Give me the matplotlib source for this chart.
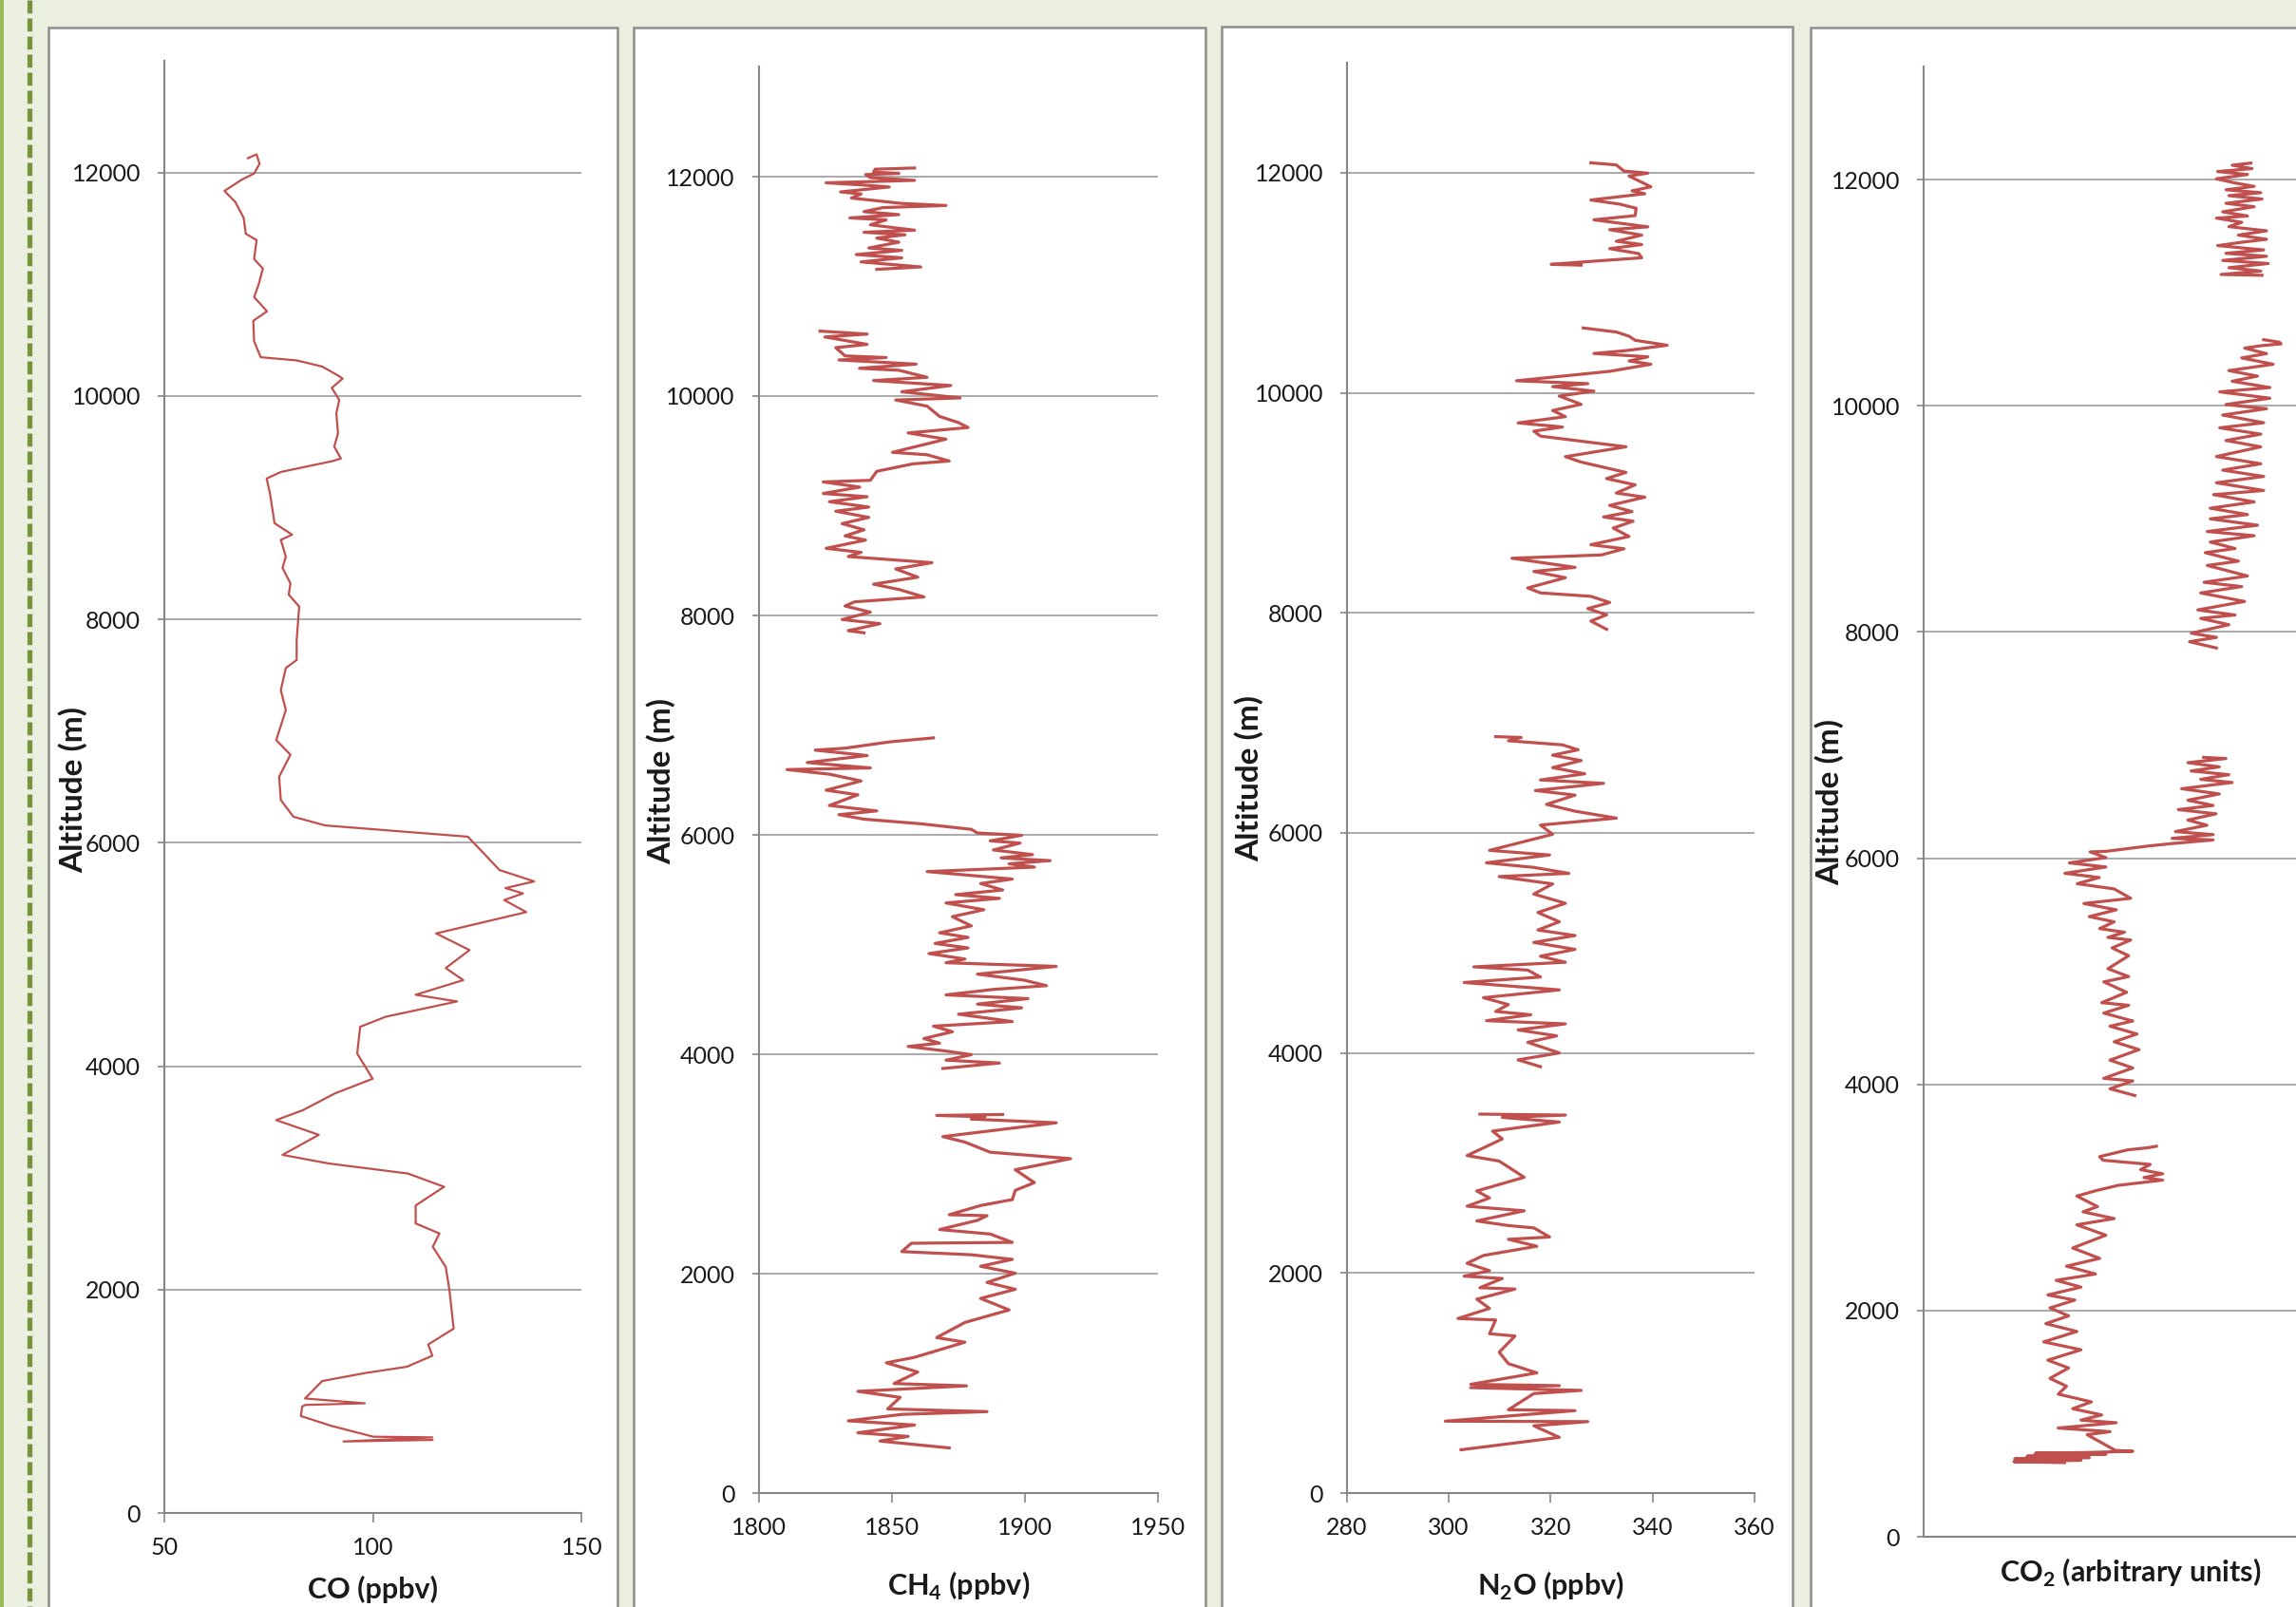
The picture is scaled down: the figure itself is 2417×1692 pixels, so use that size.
import numpy as np
import matplotlib.pyplot as plt
from matplotlib.patches import Rectangle
from matplotlib.lines import Line2D

# (altitude m, value), None marks a gap
co_profile = [
    (12128, 70.0), (12162, 72.1), (12077, 72.8), (11991, 71.5), (11935, 68.5), (11835, 64.4),
    (11736, 67.0), (11594, 69.0), (11452, 69.5), (11395, 72.1), (11225, 71.5), (11140, 73.6),
    (10999, 72.6), (10885, 71.5), (10757, 74.6), (10672, 71.3), (10488, 71.5), (10346, 73.1),
    (10318, 81.7), (10263, 87.8), (10176, 91.9), (10155, 92.7), (10072, 90.1), (9964, 91.9),
    (9845, 91.2), (9666, 91.6), (9546, 90.7), (9439, 92.3), (9415, 90.1), (9319, 77.9),
    (9260, 74.5), (9128, 75.3), (8860, 76.4), (8758, 80.6), (8711, 77.9), (8561, 79.1),
    (8460, 78.3), (8322, 80.2), (8221, 79.8), (8114, 82.3), (7815, 81.7), (7636, 81.7),
    (7564, 79.1), (7367, 77.9), (7188, 79.1), (6919, 76.8), (6788, 80.2), (6591, 77.5),
    (6382, 77.9), (6233, 80.9), (6155, 88.5), (6054, 122.7), (5905, 126.5), (5755, 130.3),
    (5654, 138.6), (5594, 131.7), (5546, 135.9), (5487, 131.4), (5379, 136.7), (5188, 115.1),
    (5039, 123.1), (4878, 117.4), (4770, 121.6), (4639, 110.2), (4579, 120.1), (4442, 103.0),
    (4352, 96.9), (4113, 96.2), (3887, 99.9), (3755, 90.8), (3606, 83.2), (3517, 76.8),
    (3385, 87.0), (3206, 78.3), (3129, 89.3), (3039, 108.3), (2920, 117.0), (2753, 110.2),
    (2592, 110.2), (2502, 115.9), (2383, 114.3), (2203, 117.4), (1991, 118.3), (1650, 119.3),
    (1508, 113.2), (1408, 114.2), (1309, 108.1), (1252, 98.0), (1181, 87.8), (1025, 83.7),
    (982, 98.0), (967, 83.7), (953, 83.0), (868, 82.7), (782, 89.8), (683, 100.0),
    (677, 114.2), (640, 92.9), (654, 114.2),
]

ch4_profile = [
    (12079, 1858.6), (12068, 1843.8), (12041, 1843.2), (12030, 1852.7), (12019, 1840.2),
    (11992, 1842.0), (11966, 1858.6), (11944, 1825.4), (11925, 1838.5), (11906, 1849.1),
    (11861, 1830.8), (11842, 1838.5), (11805, 1834.9), (11756, 1853.8), (11737, 1870.4),
    (11718, 1846.7), (11681, 1839.6), (11654, 1852.7), (11624, 1834.3), (11606, 1847.9),
    (11561, 1842.0), (11512, 1858.6), (11493, 1839.6), (11470, 1855.0), (11440, 1844.4),
    (11403, 1852.7), (11350, 1841.4), (11328, 1853.8), (11290, 1836.7), (11260, 1853.8),
    (11223, 1838.5), (11177, 1860.9), (11155, 1844.4),
    (None, None),
    (10592, 1823.1), (10565, 1840.8), (10539, 1824.9), (10471, 1840.8), (10441, 1829.0),
    (10366, 1832.5), (10351, 1847.9), (10329, 1830.2), (10291, 1859.2), (10253, 1837.9),
    (10235, 1852.7), (10171, 1863.3), (10141, 1843.2), (10096, 1872.2), (10039, 1853.8),
    (9983, 1875.7), (9964, 1851.5), (9908, 1863.3), (9814, 1868.0), (9758, 1875.1),
    (9713, 1878.7), (9664, 1856.2), (9607, 1870.4), (9487, 1850.3), (9465, 1863.3),
    (9408, 1871.6), (9382, 1858.0), (9314, 1844.4), (9232, 1842.0), (9217, 1824.3),
    (9170, 1838.0), (9112, 1824.3), (9082, 1840.8), (9037, 1826.6), (8988, 1841.4),
    (8950, 1829.0), (8894, 1841.4), (8837, 1831.4), (8781, 1839.6), (8725, 1832.5),
    (8687, 1840.2), (8612, 1825.4), (8575, 1838.5), (8537, 1833.7), (8481, 1865.1),
    (8424, 1851.5), (8349, 1859.8), (8285, 1843.2), (8237, 1852.7), (8169, 1862.1),
    (8124, 1836.1), (8086, 1832.5), (8030, 1842.0), (7963, 1831.4), (7925, 1845.6),
    (7861, 1833.7), (7842, 1839.6),
    (None, None),
    (6884, 1865.7), (6847, 1849.1), (6790, 1832.5), (6772, 1821.3), (6723, 1840.8),
    (6659, 1818.3), (6610, 1842.0), (6595, 1810.7), (6553, 1826.6), (6491, 1838.5),
    (6407, 1825.4), (6365, 1837.3), (6268, 1826.6), (6218, 1844.4), (6184, 1830.2),
    (6143, 1839.6), (6101, 1860.9), (6050, 1879.9), (6017, 1882.2), (5996, 1898.8),
    (5945, 1887.0), (5925, 1898.2), (5862, 1888.2), (5820, 1902.9), (5790, 1891.1),
    (5765, 1909.5), (5736, 1894.1), (5706, 1903.6), (5665, 1863.3), (5597, 1895.3),
    (5556, 1883.4), (5497, 1891.7), (5455, 1874.0), (5421, 1890.5), (5379, 1870.4),
    (5317, 1884.6), (5254, 1872.8), (5170, 1879.9), (5107, 1868.0), (5065, 1878.7),
    (5010, 1866.3), (4969, 1878.7), (4918, 1864.0), (4868, 1877.5), (4834, 1870.4),
    (4801, 1911.8), (4730, 1882.2), (4675, 1899.8), (4625, 1908.1), (4591, 1888.2),
    (4541, 1870.4), (4507, 1901.2), (4457, 1882.2), (4423, 1898.8), (4365, 1875.1),
    (4298, 1895.3), (4256, 1865.7), (4205, 1872.8), (4143, 1862.1), (4101, 1868.0),
    (4071, 1856.2), (4029, 1870.4), (3996, 1879.9), (3946, 1870.4), (3920, 1890.5),
    (3870, 1869.2),
    (None, None),
    (3451, 1891.7), (3442, 1866.9), (3430, 1885.0), (3409, 1879.9), (3375, 1911.8),
    (3249, 1869.2), (3199, 1877.5), (3107, 1887.0), (3048, 1917.2), (2947, 1896.4),
    (2830, 1903.6), (2759, 1896.4), (2675, 1895.3), (2621, 1883.4), (2537, 1871.6),
    (2528, 1885.8), (2486, 1882.2), (2402, 1868.0), (2361, 1887.0), (2285, 1895.3),
    (2277, 1857.4), (2201, 1853.8), (2172, 1879.9), (2130, 1895.3), (2067, 1883.4),
    (2004, 1896.4), (1920, 1885.8), (1857, 1896.4), (1774, 1883.4), (1669, 1894.1),
    (1555, 1877.5), (1417, 1866.9), (1375, 1877.5), (1237, 1858.6), (1187, 1848.0),
    (1103, 1859.8), (998, 1850.9), (977, 1878.1), (927, 1837.3), (872, 1853.2),
    (767, 1848.5), (742, 1885.8), (717, 1853.8), (658, 1833.7), (620, 1858.6),
    (549, 1837.3), (516, 1856.2), (474, 1845.6), (411, 1871.6),
]

n2o_profile = [
    (12090, 327.9), (12071, 332.9), (12015, 334.4), (11996, 339.1), (11970, 335.4),
    (11872, 339.7), (11835, 336.0), (11809, 338.5), (11752, 327.9), (11715, 333.5),
    (11677, 336.8), (11610, 336.6), (11572, 328.5), (11508, 339.1), (11482, 331.6),
    (11433, 337.9), (11377, 332.9), (11347, 337.9), (11310, 331.6), (11265, 337.3),
    (11227, 337.9), (11190, 326.7), (11167, 320.1), (11160, 326.0),
    (None, None),
    (10589, 326.4), (10552, 332.9), (10514, 335.4), (10477, 336.6), (10432, 342.9),
    (10383, 334.8), (10357, 328.5), (10327, 339.1), (10289, 335.4), (10259, 339.7),
    (10195, 331.6), (10109, 313.3), (10083, 327.3), (10056, 320.4), (10015, 328.5),
    (9970, 321.7), (9895, 326.0), (9839, 320.4), (9783, 322.9), (9726, 313.6),
    (9689, 322.3), (9651, 316.7), (9606, 318.0), (9509, 334.8), (9471, 329.8),
    (9419, 322.9), (9370, 326.0), (9276, 334.8), (9220, 331.0), (9163, 336.6),
    (9089, 332.9), (9051, 338.5), (8976, 331.6), (8920, 336.0), (8871, 330.4),
    (8833, 336.2), (8770, 332.3), (8694, 335.4), (8619, 327.9), (8582, 334.4),
    (8526, 330.0), (8496, 312.4), (8413, 324.8), (8376, 316.7), (8319, 322.9),
    (8226, 315.5), (8181, 318.0), (8150, 327.9), (8094, 331.6), (8038, 327.3),
    (7982, 331.0), (7925, 327.9), (7850, 331.0),
    (None, None),
    (6875, 309.2), (6867, 314.2), (6837, 311.7), (6800, 322.3), (6755, 325.4),
    (6706, 320.4), (6657, 326.0), (6593, 320.4), (6537, 326.7), (6481, 318.0),
    (6450, 330.4), (6385, 317.0), (6343, 324.8), (6259, 319.2), (6197, 324.8),
    (6134, 332.9), (6071, 318.0), (5987, 320.4), (5841, 308.0), (5799, 319.8),
    (5728, 307.4), (5686, 316.7), (5632, 323.6), (5603, 309.9), (5536, 320.4),
    (5444, 316.7), (5360, 322.9), (5276, 317.5), (5192, 321.7), (5117, 317.5),
    (5067, 324.8), (5004, 316.7), (4941, 324.8), (4879, 318.0), (4824, 322.9),
    (4782, 304.9), (4753, 315.5), (4690, 318.0), (4640, 303.0), (4573, 321.7),
    (4502, 306.8), (4439, 311.7), (4377, 309.2), (4347, 316.1), (4293, 307.4),
    (4264, 322.9), (4209, 313.6), (4155, 321.2), (4096, 315.5), (4000, 321.7),
    (3937, 313.6), (3875, 318.0),
    (None, None),
    (3444, 306.1), (3435, 322.9), (3414, 310.5), (3372, 321.7), (3289, 308.6),
    (3218, 310.5), (3067, 303.6), (3017, 309.9), (2870, 314.8), (2745, 305.5),
    (2682, 308.0), (2607, 303.6), (2565, 314.8), (2473, 305.5), (2431, 311.7),
    (2410, 316.7), (2327, 319.8), (2306, 311.7), (2243, 317.3), (2159, 306.8),
    (2088, 303.6), (2021, 308.0), (1971, 303.0), (1950, 310.5), (1866, 306.1),
    (1854, 313.0), (1762, 305.5), (1678, 308.0), (1586, 301.8), (1573, 309.2),
    (1448, 308.0), (1427, 313.0), (1280, 309.9), (1176, 311.7), (1092, 317.3),
    (988, 304.3), (976, 321.7), (958, 304.3), (933, 326.0), (904, 316.7),
    (757, 311.7), (749, 324.8), (653, 299.3), (649, 327.3), (611, 316.7),
    (506, 321.7), (393, 302.4),
]

# CO2 has no scale in the original, values are relative positions 0-100
co2_profile = [
    (12146, 79.0), (12127, 74.5), (12097, 79.3), (12071, 71.0), (12045, 78.2),
    (12007, 70.7), (11970, 75.2), (11940, 79.8), (11910, 73.0), (11884, 81.4),
    (11858, 73.7), (11828, 81.7), (11790, 73.0), (11760, 79.8), (11715, 72.2),
    (11678, 78.2), (11659, 70.7), (11622, 76.8), (11584, 73.7), (11547, 82.8),
    (11509, 76.0), (11472, 82.8), (11446, 76.8), (11416, 71.0), (11378, 82.1),
    (11348, 73.0), (11322, 82.8), (11285, 72.2), (11258, 83.2), (11221, 73.7),
    (11191, 81.4), (11161, 71.8), (11154, 81.7),
    (None, None),
    (10584, 82.1), (10562, 85.9), (10547, 86.3), (10532, 81.7), (10510, 77.5),
    (10461, 82.8), (10423, 76.8), (10367, 84.4), (10311, 73.7), (10262, 80.6),
    (10217, 74.5), (10161, 83.6), (10123, 71.5), (10067, 83.6), (10011, 73.0),
    (9974, 82.8), (9918, 72.2), (9850, 82.1), (9805, 71.5), (9749, 81.4),
    (9693, 73.0), (9637, 81.4), (9551, 70.7), (9487, 81.4), (9431, 72.2),
    (9375, 82.1), (9319, 70.7), (9251, 82.1), (9214, 70.0), (9150, 79.8),
    (9094, 69.2), (9038, 78.2), (9000, 69.2), (8944, 80.6), (8888, 68.5),
    (8851, 79.8), (8795, 69.2), (8738, 75.2), (8701, 68.0), (8626, 76.0),
    (8588, 68.5), (8495, 78.2), (8439, 67.7), (8401, 76.8), (8345, 66.9),
    (8270, 77.5), (8195, 66.2), (8150, 75.2), (8120, 66.9), (8064, 73.7),
    (7989, 64.6), (7952, 70.7), (7914, 64.2), (7858, 70.7),
    (None, None),
    (6891, 67.6), (6881, 73.0), (6844, 63.8), (6807, 71.4), (6771, 64.6),
    (6738, 73.7), (6697, 66.9), (6669, 74.5), (6614, 62.3), (6568, 71.4),
    (6512, 63.8), (6466, 69.9), (6429, 61.5), (6392, 70.6), (6337, 63.8),
    (6291, 68.4), (6235, 60.8), (6208, 69.9), (6175, 60.0), (6161, 69.9),
    (6129, 60.0), (6106, 53.9), (6060, 44.0), (6055, 40.2), (6005, 44.0),
    (5958, 35.2), (5922, 44.0), (5866, 34.1), (5829, 42.4), (5774, 37.1),
    (5728, 46.0), (5645, 50.0), (5599, 38.7), (5543, 46.5), (5483, 40.0),
    (5437, 46.0), (5377, 42.5), (5345, 48.5), (5299, 44.5), (5276, 50.0),
    (5206, 45.5), (5137, 49.5), (5022, 44.5), (4953, 49.5), (4906, 43.5),
    (4814, 49.0), (4722, 43.0), (4699, 49.5), (4630, 43.5), (4560, 50.5),
    (4514, 45.0), (4445, 51.5), (4376, 46.0), (4307, 52.0), (4214, 45.0),
    (4145, 50.5), (4053, 43.5), (4030, 50.5), (3961, 45.0), (3901, 51.0),
    (None, None),
    (3453, 56.2), (3439, 54.1), (3421, 49.3), (3361, 42.5), (3329, 43.3),
    (3292, 54.7), (3246, 52.4), (3209, 57.7), (3176, 53.2), (3153, 57.7),
    (3107, 47.0), (3061, 41.7), (3012, 37.0), (2919, 42.0), (2873, 38.5),
    (2813, 46.0), (2758, 37.0), (2666, 44.0), (2553, 36.0), (2461, 42.5),
    (2392, 34.5), (2323, 41.5), (2267, 32.0), (2207, 38.0), (2138, 30.0),
    (2092, 36.5), (2023, 30.5), (1953, 35.0), (1884, 29.5), (1815, 37.0),
    (1723, 29.0), (1653, 38.0), (1561, 30.0), (1492, 35.0), (1400, 30.5),
    (1331, 34.5), (1261, 32.5), (1192, 40.5), (1132, 36.0), (1077, 43.0),
    (1031, 38.0), (1008, 46.5), (961, 32.5), (929, 45.0), (902, 39.5),
    (763, 46.3), (756, 50.5), (745, 40.0), (738, 27.0), (730, 44.0),
    (722, 32.0), (712, 25.0), (700, 40.0), (688, 22.0), (676, 38.0),
    (664, 21.8), (655, 34.0),
]

alt_ticks = [0, 2000, 4000, 6000, 8000, 10000, 12000]

W, H = 2417, 1692
RED = '#c0504d'
AXIS_GREY = '#868686'
GRID_GREY = '#9c9c9c'
TEXT = '#1a1a1a'

plt.rcParams['font.family'] = ['Lato', 'DejaVu Sans']
plt.rcParams['mathtext.fontset'] = 'custom'
plt.rcParams['mathtext.rm'] = 'Lato'
plt.rcParams['mathtext.bf'] = 'Lato:bold'


def fx(px):
    return px / W


def fy(py):
    return 1 - py / H


fig = plt.figure(figsize=(W / 100, H / 100), dpi=100)
fig.patch.set_facecolor('#ebefdf')

# green borders at the left edge of the slide
fig.add_artist(Rectangle((0, 0), fx(3.5), 1, transform=fig.transFigure,
                         facecolor='#9bbb59', edgecolor='none', zorder=-3))
fig.add_artist(Line2D([fx(31), fx(31)], [1, 0], transform=fig.transFigure,
                      color='#77933c', lw=3.8, linestyle=(0, (2.6, 1.0)), zorder=-3))

# white panel frames (they run off the bottom and right of the picture)
panels = [(51, 650, 29), (667, 1269, 29), (1286, 1887, 28), (1906, 2500, 29)]
for left, right, top in panels:
    fig.add_artist(Rectangle((fx(left), fy(1760)), (right - left) / W, (1760 - top) / H,
                             transform=fig.transFigure, facecolor='white',
                             edgecolor='#8e8e8e', lw=1.8, zorder=-2))

# axes boxes in pixels: left, right, top, bottom
boxes = [(173, 612.5, 64, 1593), (798.5, 1219, 70.5, 1572),
         (1418, 1846.7, 66, 1572), (2025, 2461, 70, 1618)]
profiles = [co_profile, ch4_profile, n2o_profile, co2_profile]
xlims = [(50, 150), (1800, 1950), (280, 360), (0, 100)]
xticks = [[50, 100, 150], [1800, 1850, 1900, 1950], [280, 300, 320, 340, 360], []]
widths = [1.6, 2.3, 2.3, 2.3]
xlabels = [r'CO (ppbv)', r'CH$_\mathbf{4}$ (ppbv)', r'N$_\mathbf{2}$O (ppbv)',
           r'CO$_\mathbf{2}$ (arbitrary units)']
xlabel_pos = [(393, 1683), (1009, 1680), (1632, 1680), (2243, 1666)]
ylabel_pos = [(77, 831), (696, 822), (1315, 819), (1926, 844)]

for i in range(4):
    l, r, t, b = boxes[i]
    ax = fig.add_axes([fx(l), fy(b), (r - l) / W, (b - t) / H], zorder=1)
    ax.set_facecolor('none')

    data = np.array(profiles[i], dtype=float)
    ax.plot(data[:, 1], data[:, 0], color=RED, lw=widths[i], solid_joinstyle='round')

    ax.set_xlim(*xlims[i])
    ax.set_ylim(0, 13000)
    ax.set_xticks(xticks[i])
    ax.set_yticks(alt_ticks)
    ax.grid(axis='y', color=GRID_GREY, lw=1.2)
    ax.set_axisbelow(True)

    for side in ['top', 'right']:
        ax.spines[side].set_visible(False)
    for side in ['left', 'bottom']:
        ax.spines[side].set_color(AXIS_GREY)
        ax.spines[side].set_linewidth(1.5)

    ax.tick_params(axis='y', length=5, width=1.2, color=AXIS_GREY, pad=13,
                   labelsize=18, labelcolor=TEXT)
    ax.tick_params(axis='x', length=7, width=1.2, color=AXIS_GREY, pad=11,
                   labelsize=18, labelcolor=TEXT)

    fig.text(fx(xlabel_pos[i][0]), fy(xlabel_pos[i][1]), xlabels[i], ha='center',
             va='baseline', fontsize=22, fontweight='bold', color=TEXT)
    fig.text(fx(ylabel_pos[i][0]), fy(ylabel_pos[i][1]), 'Altitude (m)', ha='center',
             va='center', rotation=90, fontsize=24, fontweight='bold', color=TEXT)

fig.savefig('out.png', dpi=100, facecolor=fig.get_facecolor())
